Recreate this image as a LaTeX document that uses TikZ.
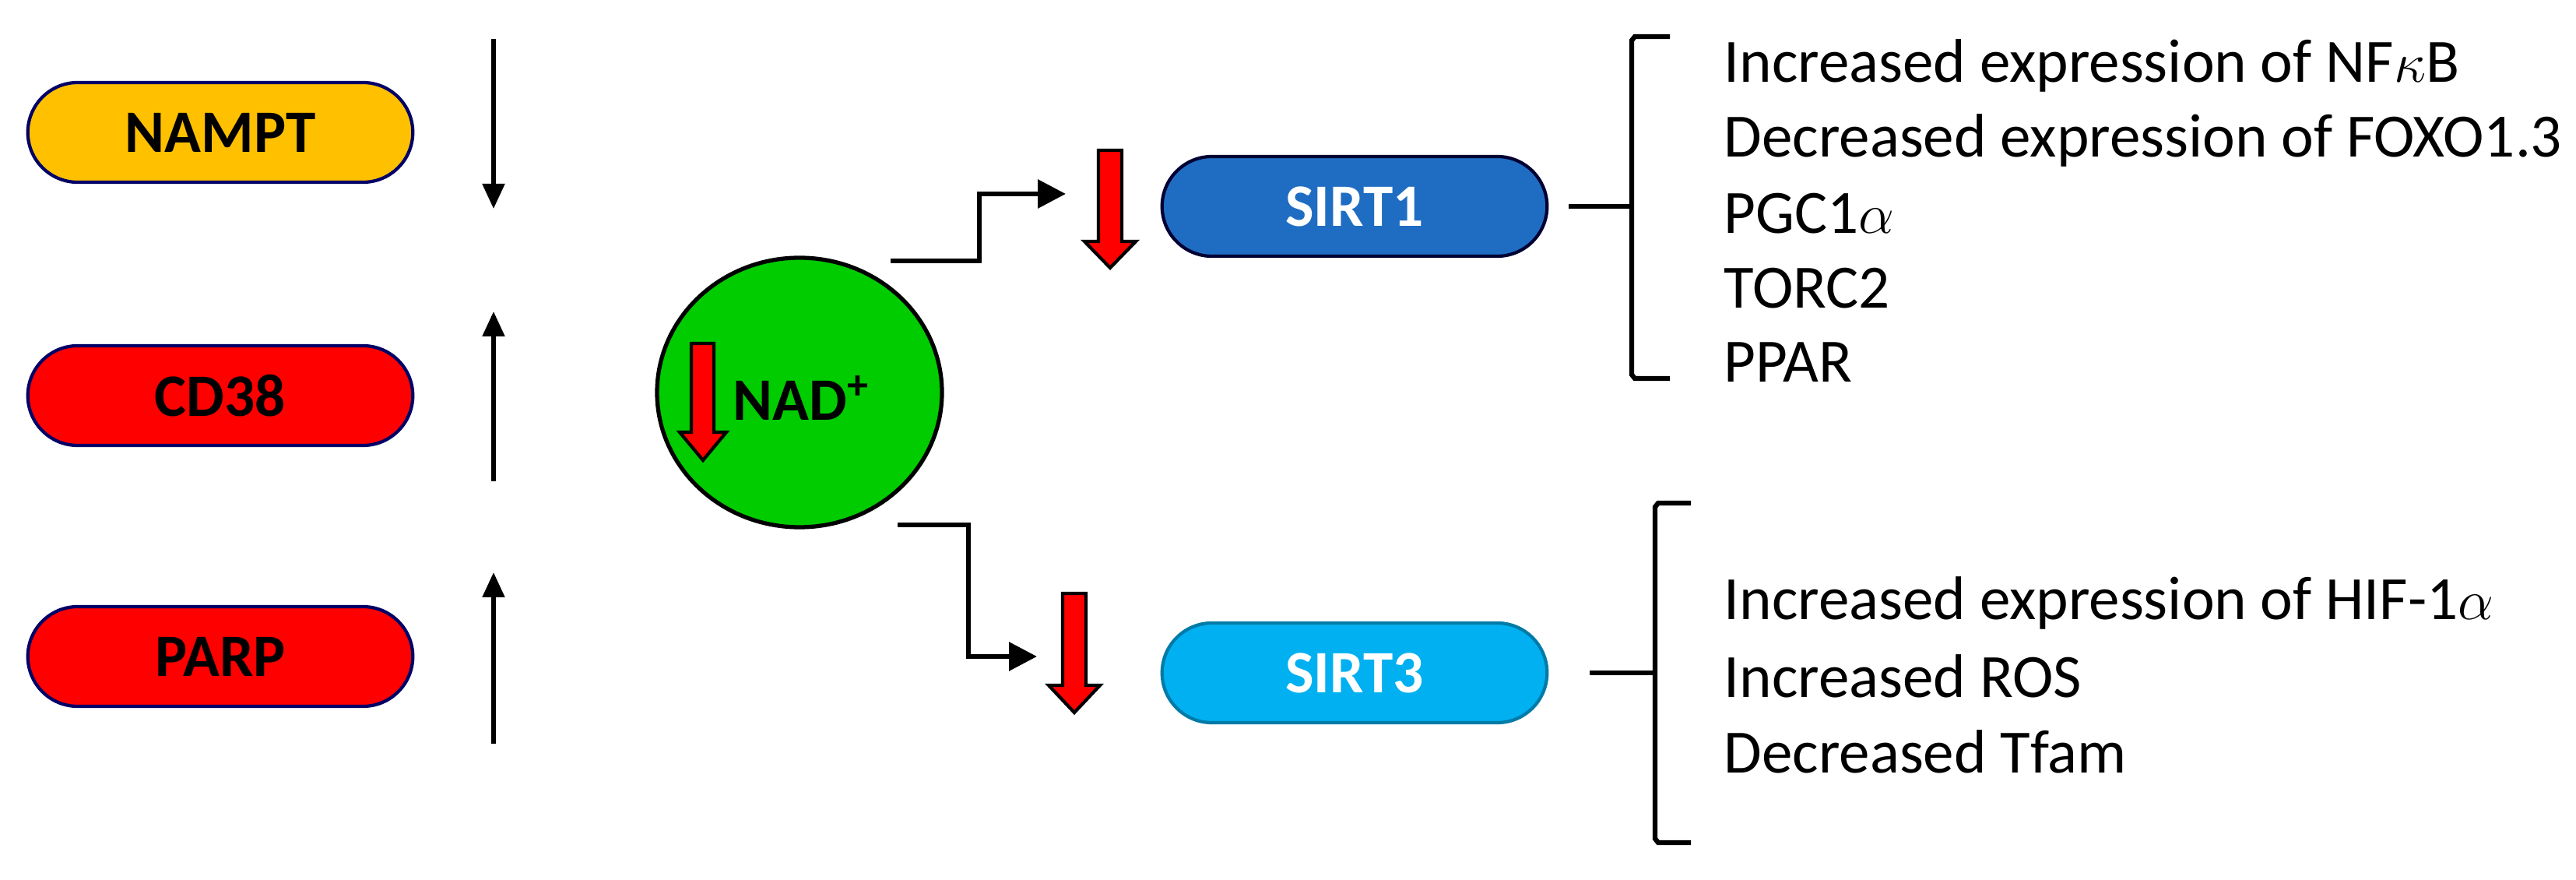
\documentclass[tikz,border=0pt]{standalone}
\usepackage{fontspec}
\setmainfont{Carlito}
\usetikzlibrary{shapes.misc,shapes.geometric,arrows.meta}
\definecolor{orng}{HTML}{FFC000}
\definecolor{sblue}{HTML}{1F6DC2}
\definecolor{lblue}{HTML}{00B0F0}
\definecolor{nadgreen}{HTML}{00CC00}
\begin{document}
\begin{tikzpicture}[x=1cm,y=1cm,
  pill/.style={rounded rectangle, minimum width=5.18cm, minimum height=1.28cm, draw=#1, line width=1.2pt, font=\fontsize{22}{24}\selectfont\bfseries},
  blk/.style={line width=1.5pt, -{Triangle[length=0.32cm,width=0.28cm]}},
  con/.style={line width=1.8pt, -{Triangle[length=0.36cm,width=0.36cm]}},
  brace/.style={line width=1.8pt},
  txt/.style={anchor=west, font=\fontsize{22.5}{24}\selectfont, inner sep=0pt},
  redarr/.style={fill=red, draw=black, line width=1.2pt}
]
\useasboundingbox (0,0) rectangle (33.09,-11.30);
% left pills
\node[pill=black!60!blue, fill=orng] (nampt) at (2.83,-1.70) {NAMPT};
\node[pill=black!60!blue, fill=red] (cd38) at (2.83,-5.08) {CD38};
\node[pill=black!60!blue, fill=red] (parp) at (2.83,-8.43) {PARP};
% black arrows
\coordinate (a1s) at (6.34,-0.50); \coordinate (a1e) at (6.34,-2.68);
\coordinate (a2s) at (6.34,-6.18); \coordinate (a2e) at (6.34,-4.00);
\coordinate (a3s) at (6.34,-9.55); \coordinate (a3e) at (6.34,-7.35);
\draw[blk] (a1s) -- (a1e);
\draw[blk] (a2s) -- (a2e);
\draw[blk] (a3s) -- (a3e);
% NAD circle
\node[ellipse, draw=black, line width=1.5pt, fill=nadgreen, minimum width=3.66cm, minimum height=3.46cm] (nad) at (10.27,-5.04) {};
\node[font=\fontsize{22}{24}\selectfont\bfseries, anchor=west, inner sep=0pt] (nadt) at (9.41,-5.11) {NAD\textsuperscript{+}};
\draw[redarr] (8.98,-4.41) -- (9.17,-4.41) -- (9.17,-5.55) -- (9.33,-5.55) -- (9.03,-5.91) -- (8.73,-5.55) -- (8.88,-5.55) -- (8.88,-4.41) -- cycle;
% SIRT nodes
\node[pill=black!80!blue, fill=sblue, text=white] (sirt1) at (17.40,-2.65) {SIRT1};
\node[pill=lblue!70!black, fill=lblue, text=white] (sirt3) at (17.40,-8.64) {SIRT3};
% connectors
\coordinate (c1s) at (11.44,-3.35); \coordinate (c1e) at (13.69,-2.49);
\draw[con] (c1s) -- (12.58,-3.35) -- (12.58,-2.49) -- (c1e);
\coordinate (c2s) at (11.53,-6.74); \coordinate (c2e) at (13.32,-8.43);
\draw[con] (c2s) -- (12.44,-6.74) -- (12.44,-8.43) -- (c2e);
% red arrows
\draw[redarr] (14.11,-1.93) -- (14.41,-1.93) -- (14.41,-3.10) -- (14.59,-3.10) -- (14.26,-3.44) -- (13.93,-3.10) -- (14.11,-3.10) -- cycle;
\draw[redarr] (13.65,-7.62) -- (13.95,-7.62) -- (13.95,-8.80) -- (14.13,-8.80) -- (13.80,-9.15) -- (13.47,-8.80) -- (13.65,-8.80) -- cycle;
% brackets
\coordinate (b1) at (20.96,-2.65);
\coordinate (s1) at (20.15,-2.65);
\draw[brace] (s1) -- (b1);
\draw[brace] (21.45,-0.47) -- (21.00,-0.47) -- (20.96,-0.52) -- (20.96,-2.58) -- (b1) -- (20.96,-2.72) -- (20.96,-4.81) -- (21.00,-4.86) -- (21.45,-4.86);
\coordinate (b2) at (21.26,-8.64);
\coordinate (s2) at (20.42,-8.64);
\draw[brace] (s2) -- (b2);
\draw[brace] (21.72,-6.46) -- (21.30,-6.46) -- (21.26,-6.51) -- (21.26,-8.57) -- (b2) -- (21.26,-8.71) -- (21.26,-10.77) -- (21.30,-10.82) -- (21.72,-10.82);
% texts
\node[txt] (t1) at (22.14,-0.84) {Increased expression of NF$\kappa$B};
\node[txt] (t2) at (22.14,-1.80) {Decreased expression of FOXO1.3};
\node[txt] (t3) at (22.14,-2.74) {PGC1$\alpha$};
\node[txt] (t4) at (22.14,-3.70) {TORC2};
\node[txt] (t5) at (22.14,-4.65) {PPAR};
\node[txt] (t6) at (22.14,-7.74) {Increased expression of HIF-1$\alpha$};
\node[txt] (t7) at (22.14,-8.68) {Increased ROS};
\node[txt] (t8) at (22.14,-9.65) {Decreased Tfam};
\end{tikzpicture}
\end{document}
